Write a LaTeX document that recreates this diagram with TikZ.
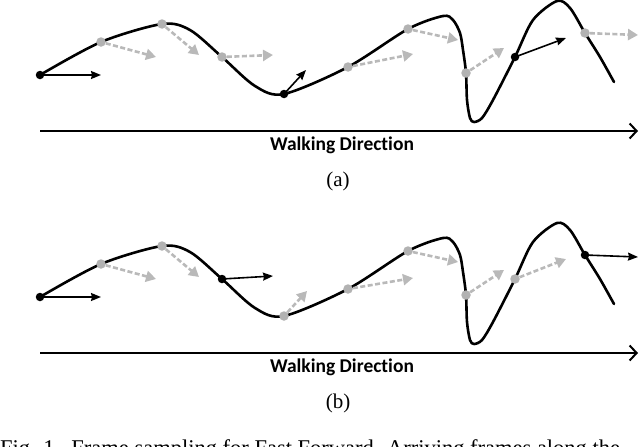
\documentclass[tikz,border=0pt]{standalone}
\usepackage{fontspec}
\setmainfont{Liberation Serif}
\newfontfamily\labelfont[Ligatures=NoCommon]{Carlito}
\usetikzlibrary{arrows.meta}
\definecolor{gdot}{RGB}{178,178,178}
\definecolor{garrow}{RGB}{185,185,185}
\begin{document}
\begin{tikzpicture}[x=1pt,y=-1pt,
  curve/.style={line width=2.6pt, line join=round, line cap=round},
  blackdot/.style={circle, fill=black, inner sep=0pt, minimum size=8.5pt},
  graydot/.style={circle, fill=gdot, inner sep=0pt, minimum size=9.5pt},
  blackarrow/.style={line width=1.6pt, -{Stealth[length=10pt,width=8pt,inset=1pt]}},
  grayarrow/.style={draw=garrow, line width=2.6pt, dash pattern=on 5pt off 2.5pt, -{Triangle[length=10pt,width=11pt]}},
  walkline/.style={line width=2.6pt, -{Straight Barb[length=7pt,width=15pt,line width=2pt]}},
  walktext/.style={font=\labelfont\bfseries\fontsize{19.5}{22}\selectfont, inner sep=0pt},
  sublabel/.style={font=\fontsize{21}{24}\selectfont, inner sep=0pt},
  captiontext/.style={font=\fontsize{22.5}{26}\selectfont, inner sep=0pt, anchor=base west}
]
\useasboundingbox (0,0) rectangle (640,447);

% ---------- panel (a) ----------
\begin{scope}
\draw[curve] plot[smooth, tension=0.5] coordinates {(40,75) (101,42) (162,24) (190,30) (222,57) (255,86) (284,94) (348,67) (408,29) (443,16) (453,20) (460,33) (463,50) (466,73) (467,100) (470,118) (474,122) (482,118) (493,100) (515,57) (533,20) (557,1) (570,8) (585,33) (600,57) (614,82)};
\node[blackdot] (a0) at (40,75) {};
\node[graydot] (a1) at (101,42) {};
\node[graydot] (a2) at (162,24) {};
\node[graydot] (a3) at (222,57) {};
\node[blackdot] (a4) at (284,94) {};
\node[graydot] (a5) at (348,67) {};
\node[graydot] (a6) at (408,29) {};
\node[graydot] (a7) at (466,73) {};
\node[blackdot] (a8) at (515,57) {};
\node[graydot] (a9) at (585,33) {};
\coordinate (ta0) at (101,75);
\coordinate (ta1) at (156,57);
\coordinate (ta2) at (199,55);
\coordinate (ta3) at (273,55);
\coordinate (ta4) at (306,70);
\coordinate (ta5) at (413,54);
\coordinate (ta6) at (458,40);
\coordinate (ta7) at (504,48);
\coordinate (ta8) at (566,38);
\coordinate (ta9) at (638,35);
\draw[blackarrow] (a0.center) -- (ta0);
\draw[grayarrow] (a1) -- (ta1);
\draw[grayarrow] (a2) -- (ta2);
\draw[grayarrow] (a3) -- (ta3);
\draw[blackarrow] (a4.center) -- (ta4);
\draw[grayarrow] (a5) -- (ta5);
\draw[grayarrow] (a6) -- (ta6);
\draw[grayarrow] (a7) -- (ta7);
\draw[blackarrow] (a8.center) -- (ta8);
\draw[grayarrow] (a9) -- (ta9);
\coordinate (wa0) at (40,131);
\coordinate (wa1) at (638,131);
\draw[walkline] (wa0) -- (wa1);
\node[walktext] (wta) at (342,145) {Walking Direction};
\node[sublabel] (la) at (338,181) {(a)};
\end{scope}

% ---------- panel (b) ----------
\begin{scope}[shift={(0,222)}]
\draw[curve] plot[smooth, tension=0.5] coordinates {(40,75) (101,42) (162,24) (190,30) (222,57) (255,86) (284,94) (348,67) (408,29) (443,16) (453,20) (460,33) (463,50) (466,73) (467,100) (470,118) (474,122) (482,118) (493,100) (515,57) (533,20) (557,1) (570,8) (585,33) (600,57) (614,82)};
\node[blackdot] (b0) at (40,75) {};
\node[graydot] (b1) at (101,42) {};
\node[graydot] (b2) at (162,24) {};
\node[blackdot] (b3) at (222,57) {};
\node[graydot] (b4) at (284,94) {};
\node[graydot] (b5) at (348,67) {};
\node[graydot] (b6) at (408,29) {};
\node[graydot] (b7) at (466,73) {};
\node[graydot] (b8) at (515,57) {};
\node[blackdot] (b9) at (585,33) {};
\coordinate (tb0) at (101,75);
\coordinate (tb1) at (156,57);
\coordinate (tb2) at (199,55);
\coordinate (tb3) at (273,54);
\coordinate (tb4) at (307,69);
\coordinate (tb5) at (413,56);
\coordinate (tb6) at (458,40);
\coordinate (tb7) at (504,48);
\coordinate (tb8) at (566,37);
\coordinate (tb9) at (638,35);
\draw[blackarrow] (b0.center) -- (tb0);
\draw[grayarrow] (b1) -- (tb1);
\draw[grayarrow] (b2) -- (tb2);
\draw[blackarrow] (b3.center) -- (tb3);
\draw[grayarrow] (b4) -- (tb4);
\draw[grayarrow] (b5) -- (tb5);
\draw[grayarrow] (b6) -- (tb6);
\draw[grayarrow] (b7) -- (tb7);
\draw[grayarrow] (b8) -- (tb8);
\draw[blackarrow] (b9.center) -- (tb9);
\coordinate (wb0) at (40,131);
\coordinate (wb1) at (638,131);
\draw[walkline] (wb0) -- (wb1);
\node[walktext] (wtb) at (342,145) {Walking Direction};
\node[sublabel] (lb) at (338,181) {(b)};
\end{scope}

% ---------- caption (cut off by the page edge, as in the reference) ----------
\node[captiontext] (cap) at (0,455) {Fig. 1.\ \ Frame sampling for Fast Forward. Arriving frames along the};
\end{tikzpicture}
\end{document}
